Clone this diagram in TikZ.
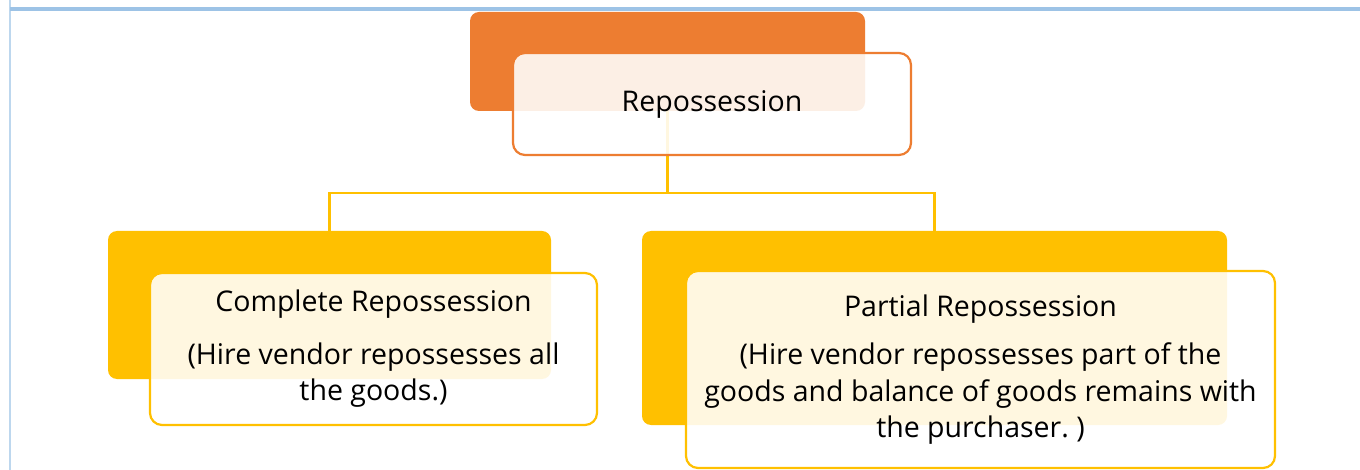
\documentclass[tikz,border=0pt]{standalone}
\usepackage{fontspec}
\setmainfont{Open Sans}
\frenchspacing
\definecolor{orangeA}{HTML}{ED7D31}
\definecolor{goldA}{HTML}{FFC000}
\definecolor{rulelight}{HTML}{BDD7EE}
\definecolor{ruledark}{HTML}{9DC3E6}
\begin{document}
\begin{tikzpicture}[x=1pt,y=-1pt,
  back/.style={rectangle, rounded corners=9pt, inner sep=0pt, fill=#1},
  front/.style={rectangle, rounded corners=12pt, inner sep=0pt, draw=#1,
    line width=2.2pt, fill=white, fill opacity=0.88, text opacity=1,
    align=center, font=\fontsize{28.5}{36.5}\selectfont},
  link/.style={draw=goldA, line width=2.3pt}]

\useasboundingbox (0,0) rectangle (1360,470);
\fill[white] (0,0) rectangle (1360,470);

% page rules
\draw[rulelight, line width=2pt] (10,0) -- (10,470);
\draw[ruledark, line width=4pt] (10,9) -- (1360,9);

% coloured back panels
\node[back=orangeA, minimum width=395pt, minimum height=99pt] (topback) at (667.5,61.5) {};
\node[back=goldA, minimum width=443pt, minimum height=148pt] (leftback) at (329.5,305) {};
\node[back=goldA, minimum width=585pt, minimum height=194pt] (rightback) at (934.5,328) {};

% connectors
\coordinate (mid) at (667.5,193);
\draw[link] (topback.south) -- (mid);
\draw[link] (mid) -| (leftback.north);
\draw[link] (mid) -| (rightback.north);

% text boxes
\node[front=orangeA, minimum width=398pt, minimum height=102pt] (top) at (712,104) {Repossession};
\node[front=goldA, minimum width=447pt, minimum height=152pt] (left) at (373.5,349)
  {Complete Repossession\\[16pt](Hire vendor repossesses all\\the goods.)};
\node[front=goldA, minimum width=589pt, minimum height=197pt] (right) at (980.5,369.5)
  {\fontsize{28.5}{38}\selectfont Partial Repossession\\[12pt](Hire vendor repossesses part of the\\goods and balance of goods remains with\\the purchaser. )};
\end{tikzpicture}
\end{document}
